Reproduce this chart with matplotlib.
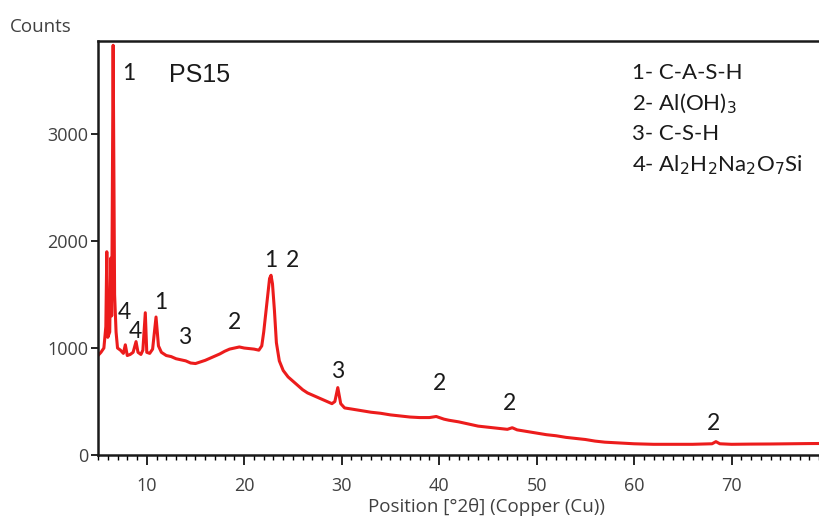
import matplotlib
matplotlib.use("Agg")
import matplotlib.pyplot as plt
from matplotlib.ticker import MultipleLocator, FixedLocator

# Diffraction pattern (2theta in degrees, intensity in counts)
two_theta = [5.0, 5.3, 5.6, 5.8, 5.9, 6.0, 6.2, 6.3, 6.4, 6.55, 6.7, 6.85, 7.0, 7.3,
             7.6, 7.8, 8.0, 8.3, 8.6, 8.9, 9.1, 9.4, 9.6, 9.85, 10.0, 10.3, 10.6,
             10.95, 11.2, 11.5, 12.0, 12.5, 13.0, 13.5, 14.0, 14.5, 15.0, 15.5,
             16.0, 16.5, 17.0, 17.5, 18.0, 18.5, 19.0, 19.5, 20.0, 20.5, 21.0,
             21.5, 21.8, 22.0, 22.3, 22.6, 22.75, 22.9, 23.1, 23.3, 23.6, 24.0,
             24.5, 25.0, 25.5, 26.0, 26.5, 27.0, 27.5, 28.0, 28.5, 29.0, 29.3,
             29.6, 29.9, 30.3, 31.0, 32.0, 33.0, 34.0, 35.0, 36.0, 37.0, 38.0,
             39.0, 39.7, 40.5, 41.0, 42.0, 43.0, 44.0, 45.0, 46.0, 47.0, 47.5,
             48.0, 49.0, 50.0, 51.0, 52.0, 53.0, 54.0, 55.0, 56.0, 57.0, 58.0,
             59.0, 60.0, 62.0, 64.0, 66.0, 68.0, 68.4, 68.8, 70.0, 72.0, 74.0,
             76.0, 78.0, 80.0]
counts = [930, 960, 1000, 1200, 1900, 1100, 1150, 1840, 1300, 3830, 1500, 1150, 1000, 980,
          950, 1030, 930, 940, 960, 1060, 960, 940, 980, 1330, 960, 950, 990,
          1290, 1020, 960, 930, 920, 900, 890, 880, 860, 855, 870,
          885, 905, 925, 945, 970, 990, 1000, 1010, 1000, 995, 990,
          980, 1020, 1150, 1400, 1650, 1680, 1600, 1350, 1050, 880, 790,
          730, 690, 650, 610, 580, 560, 540, 520, 500, 480, 500,
          630, 480, 440, 430, 415, 400, 390, 375, 365, 355, 350,
          350, 360, 335, 325, 310, 290, 270, 260, 250, 240, 255,
          235, 220, 205, 190, 180, 165, 155, 145, 130, 120, 115,
          110, 105, 100, 100, 100, 105, 125, 105, 100, 102, 103,
          105, 107, 108]

x_ticks = [10, 20, 30, 40, 50, 60, 70]
y_ticks = [0, 1000, 2000, 3000]

# Phase markers above the peaks
peak_labels = ["1", "4", "4", "1", "3", "2", "1", "2", "3", "2", "2", "2"]
peak_x = [8.15, 7.74, 8.87, 11.4, 13.9, 19.0, 22.7, 25.0, 29.6, 40.0, 47.2, 68.2]
peak_y = [3570, 1336, 1159, 1430, 1103, 1243, 1822, 1822, 776, 664, 477, 290]

phase_key = ["1- C-A-S-H", "2- Al(OH)$_3$", "3- C-S-H",
             "4- Al$_2$H$_2$Na$_2$O$_7$Si"]
sample_name = "PS15"

fig = plt.figure(figsize=(8.19, 5.19), dpi=100)
ax = fig.add_axes([0.1197, 0.1233, 0.8925, 0.7977])

ax.plot(two_theta, counts, color="#ec1c1c", lw=2.2, solid_joinstyle="round")

ax.set_xlim(5, 80)
ax.set_ylim(0, 3870)
ax.xaxis.set_major_locator(FixedLocator(x_ticks))
ax.xaxis.set_minor_locator(MultipleLocator(1))
ax.yaxis.set_major_locator(FixedLocator(y_ticks))

ax.tick_params(axis="x", which="major", direction="out", length=7, width=1.2,
               pad=9, labelcolor="#404040")
ax.tick_params(axis="x", which="minor", direction="out", length=3.5, width=1.0)
ax.tick_params(axis="y", which="major", direction="out", length=5, width=1.2,
               pad=2, labelcolor="#404040")
for lab in ax.get_xticklabels() + ax.get_yticklabels():
    lab.set_fontfamily("Open Sans")
    lab.set_fontsize(13)
for side in ["left", "bottom", "top", "right"]:
    ax.spines[side].set_linewidth(1.8)
    ax.spines[side].set_color("#1a1a1a")

for t, x, y in zip(peak_labels, peak_x, peak_y):
    ax.text(x, y, t, ha="center", va="center", fontsize=16.5,
            family="Lato", color="#1a1a1a")

ax.text(12.3, 3550, sample_name, ha="left", va="center", fontsize=18,
        family="Liberation Sans", color="#1a1a1a")

for i, entry in enumerate(phase_key):
    fig.text(632 / 819, 1 - (73 + 30.7 * i) / 519, entry, ha="left", va="center",
             fontsize=16, family="Lato", color="#1a1a1a")

fig.text(10 / 819, 1 - 27 / 519, "Counts", ha="left", va="center",
         fontsize=13.5, family="Open Sans", color="#404040")
fig.text(487 / 819, 1 - 507 / 519, "Position [°2θ] (Copper (Cu))", ha="center",
         va="center", fontsize=13.5, family="Open Sans", color="#404040")

fig.savefig("out.png", dpi=100)
